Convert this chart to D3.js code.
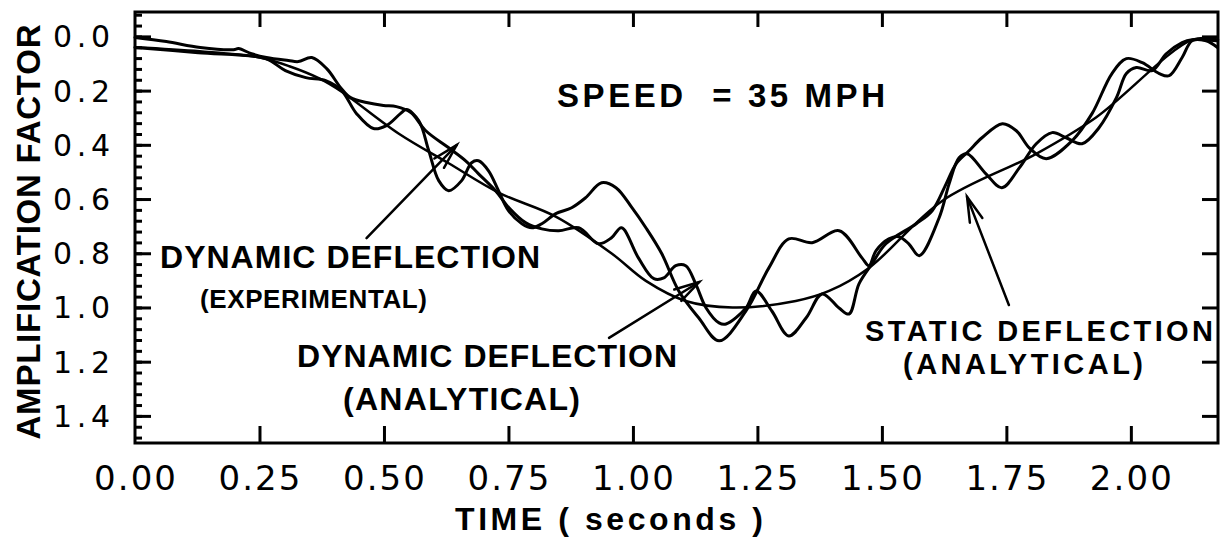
<!DOCTYPE html>
<html>
<head>
<meta charset="utf-8">
<script src="https://cdn.jsdelivr.net/npm/d3@7"></script>
<style>
  body { margin: 0; background: #fff; }
  text { font-family: "Liberation Sans", Arial, sans-serif; fill: #000; white-space: pre; }
  .tick-label { font-family: "DejaVu Sans", sans-serif; }
</style>
</head>
<body>
<script>
// time (s) and amplification factor
const staticTime = [0, 0.13, 0.25, 0.31, 0.37, 0.415, 0.53, 0.63, 0.731, 0.845, 0.958, 1.026, 1.106, 1.2, 1.327, 1.394, 1.474, 1.621, 1.809, 1.93, 2.124, 2.175];
const staticDefl = [0.04, 0.055, 0.078, 0.11, 0.155, 0.204, 0.359, 0.468, 0.577, 0.665, 0.802, 0.902, 0.976, 1.0, 0.976, 0.939, 0.854, 0.607, 0.434, 0.299, 0.012, 0.012];

const anaTime = [0, 0.127, 0.262, 0.302, 0.343, 0.383, 0.415, 0.445, 0.479, 0.505, 0.533, 0.545, 0.570, 0.590, 0.610, 0.630, 0.656, 0.676, 0.690, 0.710, 0.730, 0.750, 0.777, 0.797, 0.817, 0.845, 0.877, 0.905, 0.937, 0.966, 0.998, 1.026, 1.058, 1.092, 1.132, 1.173, 1.227, 1.273, 1.313, 1.360, 1.414, 1.460, 1.474, 1.488, 1.514, 1.534, 1.554, 1.575, 1.615, 1.635, 1.655, 1.671, 1.709, 1.741, 1.776, 1.810, 1.842, 1.870, 1.902, 1.936, 1.971, 1.991, 2.011, 2.043, 2.071, 2.103, 2.123, 2.172];
const anaDefl = [0.041, 0.060, 0.082, 0.126, 0.152, 0.163, 0.200, 0.285, 0.340, 0.329, 0.285, 0.270, 0.311, 0.422, 0.532, 0.569, 0.532, 0.466, 0.459, 0.496, 0.569, 0.643, 0.691, 0.706, 0.691, 0.654, 0.632, 0.595, 0.540, 0.558, 0.632, 0.706, 0.802, 0.939, 1.038, 1.123, 1.013, 0.854, 0.747, 0.761, 0.717, 0.817, 0.846, 0.791, 0.747, 0.739, 0.765, 0.809, 0.669, 0.544, 0.448, 0.433, 0.507, 0.558, 0.485, 0.396, 0.355, 0.374, 0.396, 0.337, 0.226, 0.137, 0.115, 0.126, 0.064, 0.023, 0.012, 0.016];

const expTime = [0, 0.063, 0.131, 0.198, 0.208, 0.234, 0.264, 0.308, 0.328, 0.355, 0.385, 0.413, 0.433, 0.465, 0.499, 0.525, 0.554, 0.584, 0.630, 0.664, 0.690, 0.724, 0.751, 0.785, 0.817, 0.851, 0.891, 0.931, 0.957, 0.977, 1.011, 1.042, 1.062, 1.086, 1.106, 1.126, 1.147, 1.173, 1.187, 1.227, 1.247, 1.279, 1.313, 1.348, 1.380, 1.414, 1.434, 1.454, 1.480, 1.508, 1.569, 1.601, 1.629, 1.649, 1.675, 1.701, 1.742, 1.770, 1.796, 1.830, 1.882, 1.922, 1.962, 1.991, 2.023, 2.057, 2.077, 2.103, 2.123, 2.151, 2.174];
const expDefl = [0.004, 0.019, 0.041, 0.049, 0.045, 0.064, 0.078, 0.089, 0.093, 0.078, 0.119, 0.189, 0.226, 0.244, 0.255, 0.259, 0.281, 0.348, 0.411, 0.459, 0.507, 0.569, 0.632, 0.688, 0.710, 0.717, 0.706, 0.765, 0.743, 0.706, 0.817, 0.894, 0.891, 0.846, 0.846, 0.913, 1.002, 1.057, 1.061, 1.002, 0.939, 1.013, 1.105, 1.038, 0.950, 1.002, 1.024, 0.913, 0.839, 0.765, 0.691, 0.643, 0.544, 0.470, 0.422, 0.374, 0.322, 0.348, 0.411, 0.451, 0.385, 0.285, 0.137, 0.082, 0.097, 0.137, 0.145, 0.078, 0.016, 0.016, 0.041];

const xTicks = [0, 0.25, 0.5, 0.75, 1.0, 1.25, 1.5, 1.75, 2.0];
const xTickLabels = ["0.00", "0.25", "0.50", "0.75", "1.00", "1.25", "1.50", "1.75", "2.00"];
const yTicks = [0, 0.2, 0.4, 0.6, 0.8, 1.0, 1.2, 1.4];
const yTickLabels = ["0.0", "0.2", "0.4", "0.6", "0.8", "1.0", "1.2", "1.4"];

// annotation arrows: [startTime, startValue, tipTime, tipValue]
const arrows = [
  [0.465, 0.744, 0.646, 0.401],
  [0.952, 1.112, 1.133, 0.906],
  [1.755, 0.991, 1.671, 0.592]
];

const width = 1221, height = 540;
const plotLeft = 135, plotRight = 1218, plotTop = 12, plotBottom = 443;

const svg = d3.select('body').append('svg')
  .attr('width', width)
  .attr('height', height);

const x = d3.scaleLinear().domain([0, 2.175]).range([plotLeft, plotRight]);
const y = d3.scaleLinear().domain([-0.09, 1.5]).range([plotTop, plotBottom]);

// ticks (inward on all sides)
function styleTicks(g) {
  g.select('.domain').remove();
  g.selectAll('text').remove();
  g.selectAll('line').attr('stroke', '#000').attr('stroke-width', 3);
}
const innerX = xTicks.slice(1);
svg.append('g').attr('transform', `translate(0,${plotBottom})`)
  .call(d3.axisTop(x).tickValues(innerX).tickSize(17)).call(styleTicks);
svg.append('g').attr('transform', `translate(0,${plotTop})`)
  .call(d3.axisBottom(x).tickValues(innerX).tickSize(15)).call(styleTicks);
svg.append('g').attr('transform', `translate(${plotLeft},0)`)
  .call(d3.axisRight(y).tickValues(d3.range(-0.08, 1.5, 0.04)).tickSize(7)).call(styleTicks);
svg.append('g').attr('transform', `translate(${plotLeft},0)`)
  .call(d3.axisRight(y).tickValues(yTicks).tickSize(16)).call(styleTicks);
svg.append('g').attr('transform', `translate(${plotRight},0)`)
  .call(d3.axisLeft(y).tickValues(yTicks).tickSize(16)).call(styleTicks);

// frame
svg.append('rect')
  .attr('x', plotLeft).attr('y', plotTop)
  .attr('width', plotRight - plotLeft).attr('height', plotBottom - plotTop)
  .attr('fill', 'none').attr('stroke', '#000').attr('stroke-width', 3);

// tick labels
svg.append('g').selectAll('text')
  .data(xTicks)
  .join('text')
  .attr('class', 'tick-label')
  .attr('x', d => x(d))
  .attr('y', 490)
  .attr('text-anchor', 'middle')
  .attr('font-size', 34)
  .attr('textLength', 82)
  .attr('lengthAdjust', 'spacing')
  .text((d, i) => xTickLabels[i]);

svg.append('g').selectAll('text')
  .data(yTicks)
  .join('text')
  .attr('class', 'tick-label')
  .attr('x', 110)
  .attr('y', d => y(d) + 11)
  .attr('text-anchor', 'end')
  .attr('font-size', 30)
  .attr('textLength', 57)
  .attr('lengthAdjust', 'spacing')
  .text((d, i) => yTickLabels[i]);

// axis titles
svg.append('text')
  .attr('transform', 'translate(40,232) rotate(-90)')
  .attr('text-anchor', 'middle')
  .attr('font-size', 33)
  .attr('font-weight', 'bold')
  .attr('textLength', 415)
  .attr('lengthAdjust', 'spacing')
  .text('AMPLIFICATION FACTOR');

svg.append('text')
  .attr('x', 455).attr('y', 530)
  .attr('font-size', 32)
  .attr('font-weight', 'bold')
  .attr('textLength', 308)
  .attr('lengthAdjust', 'spacing')
  .text('TIME ( seconds )');

// curves
const line = d3.line()
  .x(d => x(d[0]))
  .y(d => y(d[1]))
  .curve(d3.curveCatmullRom.alpha(0.5));

const series = [
  [staticTime, staticDefl, 2.5],
  [anaTime, anaDefl, 3],
  [expTime, expDefl, 3]
];
svg.append('g').selectAll('path')
  .data(series)
  .join('path')
  .attr('d', d => line(d[0].map((t, i) => [t, d[1][i]])))
  .attr('fill', 'none')
  .attr('stroke', '#000')
  .attr('stroke-width', d => d[2])
  .attr('stroke-linejoin', 'round')
  .attr('stroke-linecap', 'round');

// arrows
const arrowG = svg.append('g')
  .attr('stroke', '#000').attr('stroke-width', 2.5)
  .attr('fill', 'none').attr('stroke-linecap', 'round');
arrows.forEach(a => {
  const x0 = x(a[0]), y0 = y(a[1]), x1 = x(a[2]), y1 = y(a[3]);
  const ang = Math.atan2(y0 - y1, x0 - x1);
  const len = 26, spread = 0.26;
  arrowG.append('line').attr('x1', x0).attr('y1', y0).attr('x2', x1).attr('y2', y1);
  arrowG.append('path').attr('d',
    `M${x1 + len * Math.cos(ang - spread)},${y1 + len * Math.sin(ang - spread)}` +
    `L${x1},${y1}` +
    `L${x1 + len * Math.cos(ang + spread)},${y1 + len * Math.sin(ang + spread)}`);
});

// annotation labels
const labels = [
  { text: 'SPEED  = 35 MPH', x: 557, y: 107, size: 33, len: 328 },
  { text: 'DYNAMIC DEFLECTION', x: 160, y: 268, size: 32, len: 380 },
  { text: '(EXPERIMENTAL)', x: 200, y: 308, size: 26, len: 227 },
  { text: 'DYNAMIC DEFLECTION', x: 297, y: 367, size: 32, len: 380 },
  { text: '(ANALYTICAL)', x: 343, y: 410, size: 32, len: 237 },
  { text: 'STATIC DEFLECTION', x: 865, y: 341, size: 29, len: 348 },
  { text: '(ANALYTICAL)', x: 903, y: 374, size: 29, len: 240 }
];
svg.append('g').selectAll('text')
  .data(labels)
  .join('text')
  .attr('x', d => d.x)
  .attr('y', d => d.y)
  .attr('font-size', d => d.size)
  .attr('font-weight', 'bold')
  .attr('textLength', d => d.len)
  .attr('lengthAdjust', 'spacing')
  .text(d => d.text);
</script>
</body>
</html>
